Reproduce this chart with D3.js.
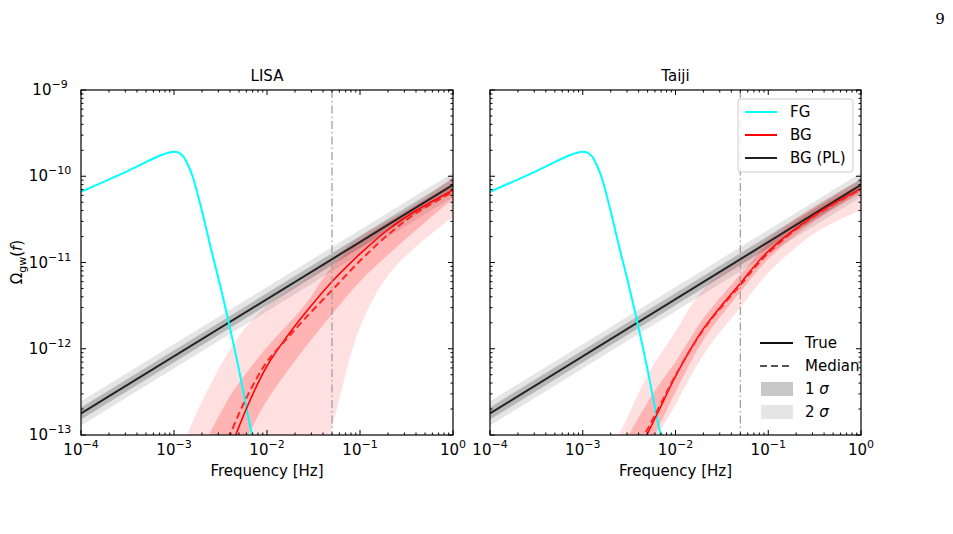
<!DOCTYPE html>
<html><head><meta charset="utf-8">
<script src="https://cdn.jsdelivr.net/npm/d3@7"></script>
<style>body{margin:0;background:#fff}text{font-family:"DejaVu Sans",sans-serif}</style>
</head><body>
<svg width="953" height="534"></svg>
<script>
// values are log10(f) and log10(Omega)
var plX = [-4, 0];
var plY = [-12.75, -10.10];
var pl1 = 0.07, pl2 = 0.14;

var fgX = [-4, -3.5, -3.15, -3.05, -3.0, -2.95, -2.9, -2.85, -2.8, -2.7, -2.6, -2.5, -2.4, -2.3, -2.2, -2.12];
var fgY = [-10.18, -9.94, -9.76, -9.725, -9.715, -9.725, -9.77, -9.87, -10.0, -10.4, -10.85, -11.28, -11.75, -12.25, -12.8, -13.2];

var lisaTrueX = [-2.45, -2.3, -2.15, -2.0, -1.8, -1.6, -1.3, -1.0, -0.7, -0.4, 0];
var lisaTrueY = [-13.35, -12.9, -12.52, -12.2, -11.88, -11.6, -11.22, -10.9, -10.62, -10.4, -10.16];
var lisaMedX = [-2.55, -2.3, -2.15, -2.0, -1.8, -1.6, -1.3, -1.0, -0.7, -0.4, 0];
var lisaMedY = [-13.4, -12.75, -12.42, -12.15, -11.9, -11.66, -11.32, -10.98, -10.68, -10.43, -10.18];
var lisa1X = [-2.8, -2.6, -2.4, -2.2, -2.0, -1.6, -1.3, -1.0, -0.5, 0];
var lisa1Hi = [-13.4, -12.95, -12.55, -12.25, -11.98, -11.5, -11.05, -10.75, -10.4, -10.08];
var lisa1Lo = [-14.2, -13.9, -13.5, -13.0, -12.6, -12.0, -11.6, -11.22, -10.72, -10.26];
var lisa2X = [-3.0, -2.8, -2.6, -2.3, -2.0, -1.6, -1.3, -1.0, -0.7, -0.4, 0];
var lisa2Hi = [-13.4, -12.85, -12.4, -11.85, -11.5, -11.2, -10.95, -10.7, -10.52, -10.33, -10.0];
var lisa2Lo = [-14.6, -14.6, -14.6, -14.6, -14.6, -14.0, -12.9, -11.75, -11.15, -10.82, -10.47];

var taijiTrueX = [-2.45, -2.3, -2.15, -2.0, -1.7, -1.3, -1.0, -0.5, 0];
var taijiTrueY = [-13.3, -12.98, -12.65, -12.32, -11.77, -11.24, -10.87, -10.45, -10.14];
var taijiMedX = [-2.5, -2.3, -2.15, -2.0, -1.7, -1.3, -1.0, -0.5, 0];
var taijiMedY = [-13.3, -12.93, -12.62, -12.31, -11.78, -11.26, -10.89, -10.46, -10.15];
var taiji1X = [-2.6, -2.4, -2.2, -2.0, -1.7, -1.3, -1.0, -0.5, 0];
var taiji1Hi = [-13.2, -12.8, -12.45, -12.15, -11.65, -11.14, -10.78, -10.38, -10.09];
var taiji1Lo = [-13.8, -13.4, -12.95, -12.5, -11.9, -11.34, -10.96, -10.52, -10.2];
var taiji2X = [-2.7, -2.5, -2.3, -2.0, -1.8, -1.6, -1.3, -1.0, -0.5, 0];
var taiji2Hi = [-13.2, -12.75, -12.3, -11.8, -11.45, -11.2, -10.97, -10.72, -10.34, -10.04];
var taiji2Lo = [-14.0, -13.6, -13.2, -12.65, -12.25, -11.92, -11.52, -11.12, -10.66, -10.39];

var xTicks = [-4, -3, -2, -1, 0];
var yTicks = [-13, -12, -11, -10, -9];

var svg = d3.select("svg");
svg.append("text").attr("x", 940).attr("y", 24).attr("text-anchor", "middle")
  .style("font-family", "DejaVu Serif").attr("font-size", 15).text("9");

var H0 = 90, H1 = 435;
function panel(x0, x1, title, d, showY) {
  var x = d3.scaleLinear().domain([-4, 0]).range([x0, x1]);
  var y = d3.scaleLinear().domain([-13, -9]).range([H1, H0]);
  var g = svg.append("g");
  var cid = "c" + x0;
  g.append("clipPath").attr("id", cid).append("rect")
    .attr("x", x0).attr("y", H0).attr("width", x1 - x0).attr("height", H1 - H0);
  var p = g.append("g").attr("clip-path", "url(#" + cid + ")");
  var area = d3.area().x(function (v) { return x(v[0]); })
    .y0(function (v) { return y(v[1]); }).y1(function (v) { return y(v[2]); }).curve(d3.curveCatmullRom);
  var line = d3.line().x(function (v) { return x(v[0]); }).y(function (v) { return y(v[1]); }).curve(d3.curveCatmullRom);
  function z(a, b, c) { return a.map(function (v, i) { return c ? [v, b[i], c[i]] : [v, b[i]]; }); }

  var plLo2 = plY.map(function (v) { return v - pl2; }), plHi2 = plY.map(function (v) { return v + pl2; });
  var plLo1 = plY.map(function (v) { return v - pl1; }), plHi1 = plY.map(function (v) { return v + pl1; });
  p.append("path").attr("d", area(z(plX, plLo2, plHi2))).attr("fill", "#000").attr("opacity", 0.1);
  p.append("path").attr("d", area(z(plX, plLo1, plHi1))).attr("fill", "#000").attr("opacity", 0.2);
  p.append("path").attr("d", area(z(d.b2x, d.b2lo, d.b2hi))).attr("fill", "red").attr("opacity", 0.12);
  p.append("path").attr("d", area(z(d.b1x, d.b1lo, d.b1hi))).attr("fill", "red").attr("opacity", 0.2);
  p.append("path").attr("d", line(z(plX, plY))).attr("stroke", "#222").attr("stroke-width", 2).attr("fill", "none");
  p.append("path").attr("d", line(z(fgX, fgY))).attr("stroke", "cyan").attr("stroke-width", 2).attr("fill", "none");
  p.append("path").attr("d", line(z(d.tx, d.ty))).attr("stroke", "red").attr("stroke-width", 1.5).attr("fill", "none");
  p.append("path").attr("d", line(z(d.mx, d.my))).attr("stroke", "#f22").attr("stroke-width", 2)
    .attr("stroke-dasharray", "7,4").attr("fill", "none");
  p.append("line").attr("x1", x(Math.log10(0.05))).attr("x2", x(Math.log10(0.05)))
    .attr("y1", H0).attr("y2", H1).attr("stroke", "#999").attr("stroke-width", 1.2).attr("stroke-dasharray", "8,3,1.5,3");

  // ticks
  xTicks.forEach(function (t) {
    g.append("line").attr("x1", x(t)).attr("x2", x(t)).attr("y1", H1).attr("y2", H1 - 5).attr("stroke", "#000");
    g.append("line").attr("x1", x(t)).attr("x2", x(t)).attr("y1", H0).attr("y2", H0 + 5).attr("stroke", "#000");
    var tx = g.append("text").attr("x", x(t)).attr("y", H1 + 20).attr("text-anchor", "middle").attr("font-size", 15);
    tx.append("tspan").text("10");
    tx.append("tspan").attr("dy", -7).attr("font-size", 11).text(t === 0 ? "0" : "\u2212" + (-t));
    if (t < 0) for (var k = 2; k < 10; k++) {
      var m = x(t + Math.log10(k));
      g.append("line").attr("x1", m).attr("x2", m).attr("y1", H1).attr("y2", H1 - 2.5).attr("stroke", "#000");
      g.append("line").attr("x1", m).attr("x2", m).attr("y1", H0).attr("y2", H0 + 2.5).attr("stroke", "#000");
    }
  });
  yTicks.forEach(function (t) {
    g.append("line").attr("x1", x0).attr("x2", x0 + 5).attr("y1", y(t)).attr("y2", y(t)).attr("stroke", "#000");
    g.append("line").attr("x1", x1).attr("x2", x1 - 5).attr("y1", y(t)).attr("y2", y(t)).attr("stroke", "#000");
    if (t < -9) for (var k = 2; k < 10; k++) {
      var m = y(t + Math.log10(k));
      g.append("line").attr("x1", x0).attr("x2", x0 + 2.5).attr("y1", m).attr("y2", m).attr("stroke", "#000");
      g.append("line").attr("x1", x1).attr("x2", x1 - 2.5).attr("y1", m).attr("y2", m).attr("stroke", "#000");
    }
    if (showY) {
      var ty = g.append("text").attr("x", x0 - 31).attr("y", y(t) + 5).attr("text-anchor", "middle").attr("font-size", 15);
      ty.append("tspan").text("10");
      ty.append("tspan").attr("dy", -7).attr("font-size", 11).text("\u2212" + (-t));
    }
  });
  g.append("rect").attr("x", x0).attr("y", H0).attr("width", x1 - x0).attr("height", H1 - H0)
    .attr("fill", "none").attr("stroke", "#000").attr("stroke-width", 1.2);
  g.append("text").attr("x", (x0 + x1) / 2).attr("y", 81).attr("text-anchor", "middle").attr("font-size", 15).text(title);
  g.append("text").attr("x", (x0 + x1) / 2).attr("y", 476).attr("text-anchor", "middle").attr("font-size", 15).text("Frequency [Hz]");
  return { x: x, y: y };
}

panel(81, 453, "LISA", { b2x: lisa2X, b2lo: lisa2Lo, b2hi: lisa2Hi, b1x: lisa1X, b1lo: lisa1Lo, b1hi: lisa1Hi,
  tx: lisaTrueX, ty: lisaTrueY, mx: lisaMedX, my: lisaMedY }, true);
panel(490, 861, "Taiji", { b2x: taiji2X, b2lo: taiji2Lo, b2hi: taiji2Hi, b1x: taiji1X, b1lo: taiji1Lo, b1hi: taiji1Hi,
  tx: taijiTrueX, ty: taijiTrueY, mx: taijiMedX, my: taijiMedY }, false);

// y label
var yl = svg.append("text").attr("transform", "translate(22,262) rotate(-90)").attr("text-anchor", "middle").attr("font-size", 15);
yl.append("tspan").text("\u03A9");
yl.append("tspan").attr("dy", 4).attr("font-size", 11).text("gw");
yl.append("tspan").attr("dy", -4).text("(");
yl.append("tspan").style("font-style", "italic").text("f");
yl.append("tspan").text(")");

// legend 1
var leg1 = [["FG", "cyan"], ["BG", "red"], ["BG (PL)", "#222"]];
svg.append("rect").attr("x", 738).attr("y", 99).attr("width", 115).attr("height", 73).attr("rx", 3)
  .attr("fill", "rgba(255,255,255,0.85)").attr("stroke", "#ccc");
leg1.forEach(function (l, i) {
  var yy = 112 + i * 23;
  svg.append("line").attr("x1", 745).attr("x2", 777).attr("y1", yy).attr("y2", yy).attr("stroke", l[1]).attr("stroke-width", 2);
  svg.append("text").attr("x", 790).attr("y", yy + 5).attr("font-size", 15).text(l[0]);
});
// legend 2
var leg2 = ["True", "Median", "1", "2"];
leg2.forEach(function (l, i) {
  var yy = 343 + i * 23;
  if (i === 0) svg.append("line").attr("x1", 760).attr("x2", 793).attr("y1", yy).attr("y2", yy).attr("stroke", "#111").attr("stroke-width", 2);
  if (i === 1) svg.append("line").attr("x1", 760).attr("x2", 793).attr("y1", yy).attr("y2", yy).attr("stroke", "#555").attr("stroke-width", 2).attr("stroke-dasharray", "7,4");
  if (i === 2) svg.append("rect").attr("x", 761).attr("y", yy - 7).attr("width", 32).attr("height", 14).attr("fill", "#000").attr("opacity", 0.22);
  if (i === 3) svg.append("rect").attr("x", 761).attr("y", yy - 7).attr("width", 32).attr("height", 14).attr("fill", "#000").attr("opacity", 0.1);
  var t = svg.append("text").attr("x", 805).attr("y", yy + 5).attr("font-size", 15);
  if (i < 2) t.text(l); else { t.append("tspan").text(l + " "); t.append("tspan").style("font-style", "italic").text("\u03C3"); }
});
</script>
</body></html>
